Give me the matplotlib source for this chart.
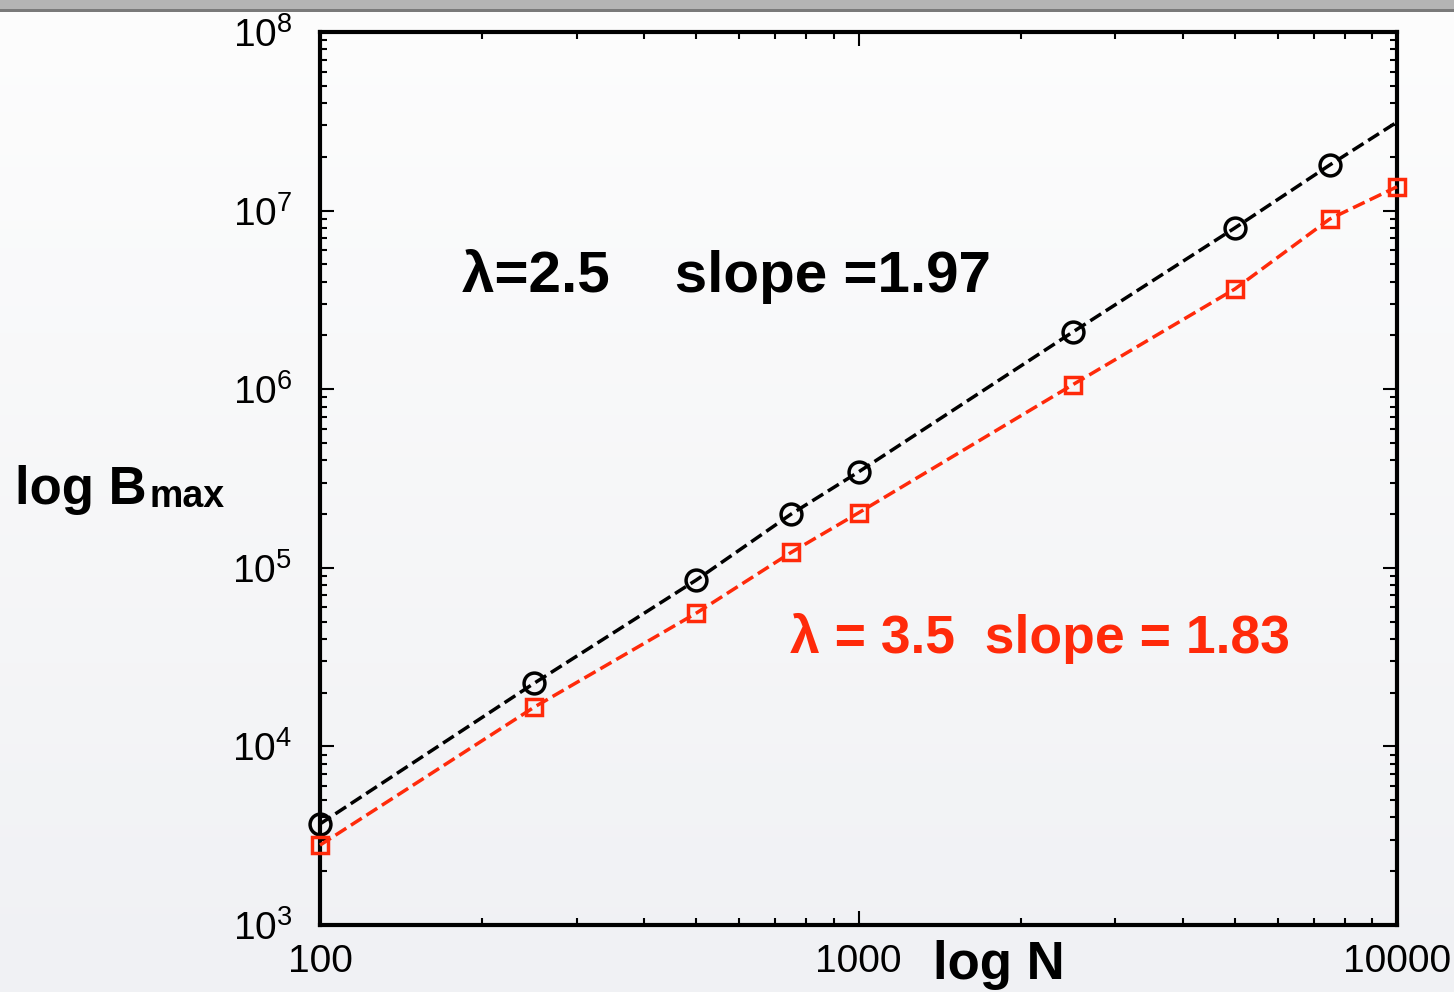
import matplotlib
matplotlib.use("Agg")
import matplotlib.pyplot as plt
import numpy as np
from matplotlib.ticker import LogLocator, FixedLocator, NullFormatter, FuncFormatter

plt.rcParams['font.family'] = ['Liberation Sans', 'DejaVu Sans']
plt.rcParams['mathtext.fontset'] = 'custom'
plt.rcParams['mathtext.rm'] = 'Liberation Sans'
plt.rcParams['mathtext.default'] = 'regular'

# data
N = [100, 250, 500, 750, 1000, 2500, 5000, 7500, 10000]
B_black = [3680, 22600, 85500, 200000, 344000, 2.09e6, 8.0e6, 1.8e7, 3.13e7]
B_red = [2800, 16600, 55800, 122000, 203000, 1.06e6, 3.64e6, 8.97e6, 1.36e7]
label_black = "λ=2.5    slope =1.97"
label_red = "λ = 3.5  slope = 1.83"
red = '#ff2a0a'

fig = plt.figure(figsize=(14.54, 9.92), dpi=100)

# background gradient + top window bar
bg = fig.add_axes([0, 0, 1, 1], zorder=-10)
grad = np.linspace(1.0, 0.0, 256).reshape(-1, 1)
bg.imshow(grad, aspect='auto', cmap=matplotlib.colors.LinearSegmentedColormap.from_list(
    'g', ['#f0f1f4', '#fdfdfd']), extent=[0, 1, 0, 1])
bg.add_patch(plt.Rectangle((0, 1 - 12 / 992), 1, 12 / 992, color='#b4b4b4', lw=0))
bg.add_patch(plt.Rectangle((0, 1 - 12 / 992), 1, 3 / 992, color='#7a7a7a', lw=0))
bg.set_xlim(0, 1)
bg.set_ylim(0, 1)
bg.axis('off')

ax = fig.add_axes([320 / 1454, 67 / 992, 1077 / 1454, 893 / 992])
ax.patch.set_alpha(0)
ax.set_xscale('log')
ax.set_yscale('log')
ax.set_xlim(100, 10000)
ax.set_ylim(1e3, 1e8)

ax.plot(N, B_black, '--', color='black', lw=2.5, marker='o', ms=15, mfc='none',
        mew=2.5, markevery=list(range(8)), clip_on=False, zorder=3)
ax.plot(N, B_red, '--', color=red, lw=2.5, marker='s', ms=12, mfc='none',
        mew=2.5, clip_on=False, zorder=3)

for s in ax.spines.values():
    s.set_linewidth(3)

ax.xaxis.set_major_locator(FixedLocator([100, 1000, 10000]))
ax.xaxis.set_major_formatter(FuncFormatter(lambda v, p: '%d' % v))
ax.xaxis.set_minor_locator(LogLocator(base=10, subs=np.arange(2, 10)))
ax.xaxis.set_minor_formatter(NullFormatter())
ax.yaxis.set_major_locator(LogLocator(base=10, numticks=10))
ax.yaxis.set_major_formatter(FuncFormatter(lambda v, p: '$10^{%d}$' % round(np.log10(v))))
ax.yaxis.set_minor_locator(LogLocator(base=10, subs=np.arange(2, 10), numticks=10))
ax.yaxis.set_minor_formatter(NullFormatter())

ax.tick_params(which='both', direction='in', top=True, right=True, width=1.5)
ax.tick_params(which='major', length=10, labelsize=28)
ax.tick_params(which='minor', length=5)
ax.tick_params(axis='x', which='major', pad=14)
ax.tick_params(axis='y', which='major', pad=20)

fig.text(462 / 1454, 1 - 276 / 992, label_black, fontsize=42, fontweight='bold',
         color='black', va='center', ha='left')
fig.text(790 / 1454, 1 - 638 / 992, label_red, fontsize=38.5, fontweight='bold',
         color=red, va='center', ha='left')

fig.text(933 / 1454, 1 - 965 / 992, 'log N', fontsize=38, fontweight='bold',
         va='center', ha='left')
fig.text(15 / 1454, 1 - 490 / 992, 'log B', fontsize=38, fontweight='bold',
         va='center', ha='left')
fig.text(150 / 1454, 1 - 497 / 992, 'max', fontsize=27, fontweight='bold',
         va='center', ha='left')

fig.savefig('out.png', dpi=100)
